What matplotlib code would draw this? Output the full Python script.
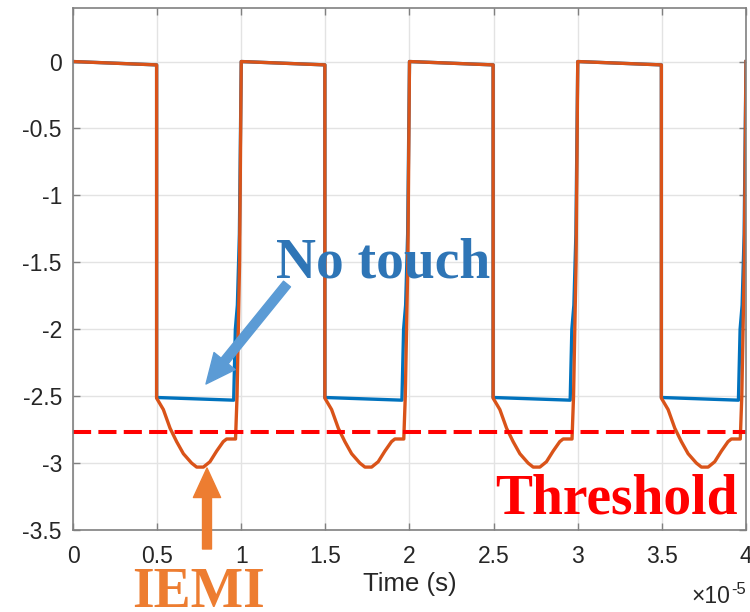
import numpy as np
import matplotlib.pyplot as plt

# time axis is in units of 1e-5 s (shown as x10^-5 like in MATLAB)
period_starts = [0, 1, 2, 3]

# one period of the IEMI trace (orange), time relative to period start
iemi_t = [0.0, 0.497, 0.497, 0.537, 0.577, 0.616, 0.656, 0.705, 0.735, 0.775,
          0.814, 0.854, 0.893, 0.913, 0.966, 0.975, 0.99]
iemi_v = [0.0, -0.025, -2.515, -2.60, -2.74, -2.84, -2.93, -3.00, -3.03, -3.03,
          -2.99, -2.91, -2.84, -2.82, -2.82, -2.5, -1.5]

# one period of the no touch trace (blue)
notouch_t = [0.0, 0.497, 0.497, 0.955, 0.965, 0.977, 0.989]
notouch_v = [0.0, -0.025, -2.51, -2.53, -2.0, -1.82, -1.29]

end_t, end_v = 4.0, 0.0
threshold = -2.77

xticks = [0, 0.5, 1, 1.5, 2, 2.5, 3, 3.5, 4]
xticklabels = ['0', '0.5', '1', '1.5', '2', '2.5', '3', '3.5', '4']
yticks = [0, -0.5, -1, -1.5, -2, -2.5, -3, -3.5]
yticklabels = ['0', '-0.5', '-1', '-1.5', '-2', '-2.5', '-3', '-3.5']


def build(t, v):
    tt = np.concatenate([np.array(t) + s for s in period_starts] + [[end_t]])
    vv = np.concatenate([np.array(v) for s in period_starts] + [[end_v]])
    return tt, vv


t_blue, v_blue = build(notouch_t, notouch_v)
t_org, v_org = build(iemi_t, iemi_v)

W, H = 750, 612
fig = plt.figure(figsize=(7.5, 6.12), dpi=100)
ax = fig.add_axes([73 / W, 1 - 530 / H, (746 - 73) / W, (530 - 8) / H])

ax.plot(t_blue, v_blue, color='#0072BD', lw=2.4)
ax.plot(t_org, v_org, color='#D95319', lw=2.4)
ax.axhline(threshold, color='#FF0000', lw=2.9, dashes=(4.5, 1.8))

ax.set_xlim(0, 4)
ax.set_ylim(-3.5, 0.4)
ax.set_xticks(xticks)
ax.set_xticklabels(xticklabels, fontfamily='Liberation Sans', fontsize=16.5, color='#262626')
ax.set_yticks(yticks)
ax.set_yticklabels(yticklabels, fontfamily='Liberation Sans', fontsize=16.5, color='#262626')
ax.tick_params(direction='in', length=5, width=1, color='#808080',
               top=True, right=True)
ax.tick_params(axis='y', pad=8)
ax.tick_params(axis='x', pad=11)
ax.grid(True, color='#e3e3e3', lw=1)
ax.set_axisbelow(True)
for sp in ax.spines.values():
    sp.set_color('#808080')
    sp.set_linewidth(1.2)

ax.set_xlabel('Time (s)', fontfamily='Liberation Sans', fontsize=18.5,
              color='#262626', labelpad=3)

# x10^-5 exponent label
fig.text(730 / W, 1 - 603 / H, '×10', fontfamily='Liberation Sans', fontsize=16.5,
         color='#262626', ha='right', va='baseline')
fig.text(731 / W, 1 - 594 / H, '-5', fontfamily='Liberation Sans', fontsize=12,
         color='#262626', ha='left', va='baseline')


def fp(x, y):
    return (x, H - y)


# annotations
serif = 'Liberation Serif'
fig.text(383 / W, 1 - 278 / H, 'No touch', fontfamily=serif, fontweight='bold',
         fontsize=40, color='#2E75B6', ha='center', va='baseline')
fig.text(616 / W, 1 - 513 / H, 'Threshold', fontfamily=serif, fontweight='bold',
         fontsize=40, color='#FF0000', ha='center', va='baseline')
fig.text(198.5 / W, 1 - 607 / H, 'IEMI', fontfamily=serif, fontweight='bold',
         fontsize=40, color='#ED7D31', ha='center', va='baseline')

arrow_style = 'simple,head_length=1.25,head_width=1.15,tail_width=0.38'
ax.annotate('', xy=fp(206, 384), xytext=fp(287, 284), xycoords='figure pixels',
            textcoords='figure pixels',
            arrowprops=dict(arrowstyle=arrow_style, mutation_scale=17,
                            color='#5B9BD5', shrinkA=0, shrinkB=0),
            annotation_clip=False)
ax.annotate('', xy=fp(207, 468), xytext=fp(207, 549), xycoords='figure pixels',
            textcoords='figure pixels',
            arrowprops=dict(arrowstyle=arrow_style, mutation_scale=17,
                            color='#ED7D31', shrinkA=0, shrinkB=0),
            annotation_clip=False)

fig.savefig('out.png', dpi=100)
